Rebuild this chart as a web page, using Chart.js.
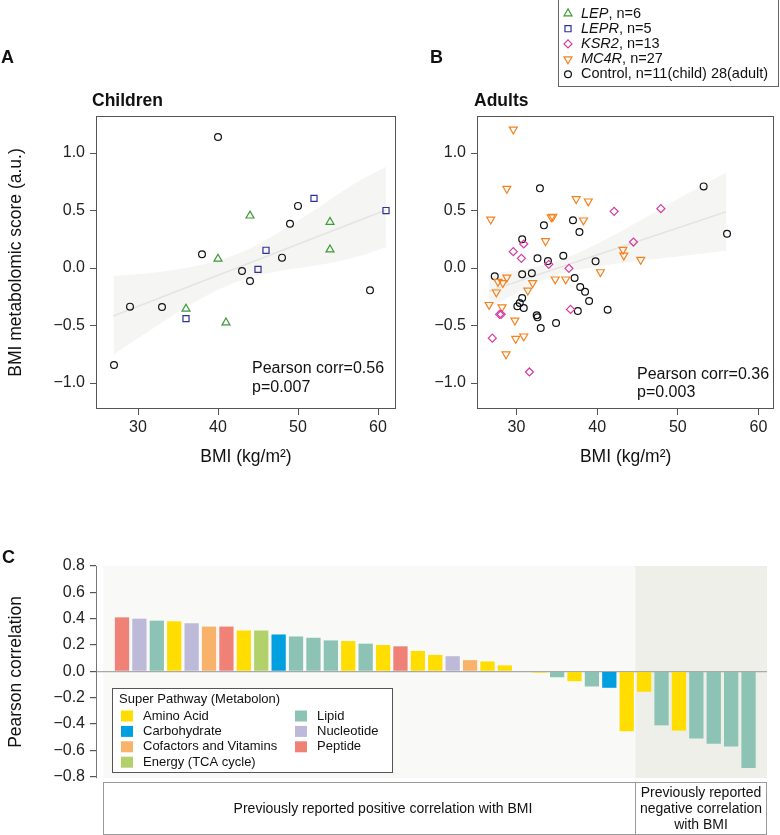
<!DOCTYPE html>
<html>
<head>
<meta charset="utf-8">
<script src="https://cdn.jsdelivr.net/npm/chart.js@4.4.0/dist/chart.umd.min.js"></script>
<style>
  body { margin: 0; background: #fff; }
  #page { position: relative; width: 780px; height: 835px; overflow: hidden;
          font-family: "Liberation Sans", Arial, sans-serif; color: #111; }
  canvas { position: absolute; }
  .lbl { position: absolute; white-space: nowrap; line-height: 20px; }
  .panel { font-weight: bold; font-size: 18px; }
  .sub { font-weight: bold; font-size: 17.5px; }
  .note { font-size: 16px; }
</style>
</head>
<body>
<div id="page">
  <canvas id="chartA" width="410" height="480" style="left:0;top:0"></canvas>
  <canvas id="chartB" width="380" height="480" style="left:400px;top:0"></canvas>
  <canvas id="chartC" width="780" height="295" style="left:0;top:540px"></canvas>

  <div class="lbl panel" style="left:1px;top:47px">A</div>
  <div class="lbl panel" style="left:430px;top:47px">B</div>
  <div class="lbl panel" style="left:2px;top:547px">C</div>
  <div class="lbl sub" style="left:92px;top:90px">Children</div>
  <div class="lbl sub" style="left:474px;top:90px">Adults</div>
  <div class="lbl note" style="left:252px;top:358px">Pearson corr=0.56</div>
  <div class="lbl note" style="left:252px;top:377px">p=0.007</div>
  <div class="lbl note" style="left:637px;top:364px">Pearson corr=0.36</div>
  <div class="lbl note" style="left:637px;top:382px">p=0.003</div>
</div>

<script>
// ---- panel A: children ----
const childLepX = [44, 54, 54, 40, 36, 41];
const childLepY = [0.455, 0.40, 0.16, 0.08, -0.355, -0.475];
const childLeprX = [52, 61, 46, 45, 36];
const childLeprY = [0.606, 0.50, 0.154, -0.012, -0.44];
const childCtrlX = [40, 50, 49, 38, 48, 43, 44, 29, 33, 59, 27];
const childCtrlY = [1.14, 0.54, 0.385, 0.12, 0.09, -0.026, -0.113, -0.336, -0.339, -0.194, -0.843];
const childFitX = [26.9, 61];
const childFitY = [-0.418, 0.504];
const childBandX = [27, 32, 37, 42, 47, 52, 57, 61];
const childBandUp = [-0.07, -0.04, 0.015, 0.11, 0.285, 0.50, 0.73, 0.88];
const childBandLo = [-0.75, -0.52, -0.30, -0.13, -0.035, 0.02, 0.09, 0.18];

// ---- panel B: adults ----
const adultMc4rX = [29.6, 28.8, 37.4, 38.9, 26.8, 34.3, 34.5, 38.3, 33.6, 43.2, 43.3, 45.4, 40.4, 28.8,
                    27.7, 28.3, 32.0, 34.8, 36.1, 27.5, 31.4, 26.6, 28.2, 29.8, 29.9, 30.9, 28.7];
const adultMc4rY = [1.206, 0.69, 0.60, 0.58, 0.423, 0.443, 0.446, 0.415, 0.235, 0.16, 0.11, 0.072, -0.035, -0.081,
                    -0.119, -0.13, -0.13, -0.098, -0.098, -0.211, -0.194, -0.32, -0.34, -0.455, -0.615, -0.594, -0.75];
const adultKsr2X = [42.1, 47.9, 44.5, 30.9, 29.6, 30.6, 34.0, 36.5, 36.7, 27.9, 28.1, 27.0, 31.6];
const adultKsr2Y = [0.493, 0.516, 0.226, 0.209, 0.142, 0.084, 0.032, -0.003, -0.36, -0.403, -0.403, -0.61, -0.904];
const adultCtrlX = [32.9, 53.2, 56.1, 37.0, 33.4, 37.8, 30.7, 35.8, 32.6, 33.9, 39.8, 27.3, 30.7, 31.9,
                    37.2, 37.9, 38.5, 39.0, 30.7, 30.1, 30.4, 30.9, 37.6, 41.3, 32.5, 32.6, 33.0, 34.9];
const adultCtrlY = [0.693, 0.71, 0.298, 0.415, 0.371, 0.313, 0.25, 0.107, 0.084, 0.06, 0.058, -0.072, -0.055, -0.046,
                    -0.087, -0.165, -0.206, -0.287, -0.261, -0.333, -0.304, -0.348, -0.374, -0.363, -0.411, -0.429, -0.522, -0.478];
const adultFitX = [26.6, 56];
const adultFitY = [-0.2, 0.49];
const adultBandX = [26.6, 30, 35, 40, 45, 50, 56];
const adultBandUp = [-0.05, -0.02, 0.06, 0.21, 0.40, 0.60, 0.83];
const adultBandLo = [-0.35, -0.22, -0.06, 0.01, 0.06, 0.10, 0.15];

const bmiTicks = [30, 40, 50, 60];
const scoreTicks = [1.0, 0.5, 0.0, -0.5, -1.0];

const groupNames = ['LEP', 'LEPR', 'KSR2', 'MC4R', 'Control'];
const groupCounts = [', n=6', ', n=5', ', n=13', ', n=27', ', n=11(child) 28(adult)'];

// ---- panel C ----
const barValues = [0.41, 0.40, 0.385, 0.38, 0.365, 0.34, 0.34, 0.31, 0.31, 0.28, 0.265, 0.255, 0.235, 0.23,
                   0.21, 0.20, 0.19, 0.155, 0.125, 0.115, 0.085, 0.075, 0.045, 0.0, -0.01, -0.045, -0.075,
                   -0.115, -0.125, -0.455, -0.155, -0.41, -0.45, -0.51, -0.55, -0.57, -0.735];
const barPathways = ['Peptide', 'Nucleotide', 'Lipid', 'Amino Acid', 'Nucleotide', 'Cofactors and Vitamins',
                     'Peptide', 'Amino Acid', 'Energy (TCA cycle)', 'Carbohydrate', 'Lipid', 'Lipid', 'Lipid',
                     'Amino Acid', 'Lipid', 'Amino Acid', 'Peptide', 'Amino Acid', 'Amino Acid', 'Nucleotide',
                     'Cofactors and Vitamins', 'Amino Acid', 'Amino Acid', 'Amino Acid', 'Amino Acid', 'Lipid',
                     'Amino Acid', 'Lipid', 'Carbohydrate', 'Amino Acid', 'Amino Acid', 'Lipid', 'Amino Acid',
                     'Lipid', 'Lipid', 'Lipid', 'Lipid'];
const negativeStart = 30; // first bar of the "previously reported negative" group
const pathwayNames = ['Amino Acid', 'Carbohydrate', 'Cofactors and Vitamins', 'Energy (TCA cycle)',
                      'Lipid', 'Nucleotide', 'Peptide'];
const corrTicks = [0.8, 0.6, 0.4, 0.2, 0.0, -0.2, -0.4, -0.6, -0.8];

const pathwayColors = {
  'Amino Acid': '#ffdd00',
  'Carbohydrate': '#00a0e0',
  'Cofactors and Vitamins': '#f9b26a',
  'Energy (TCA cycle)': '#b2d16a',
  'Lipid': '#8cc3b4',
  'Nucleotide': '#bdb9d9',
  'Peptide': '#f08177'
};

const markers = {
  LEP: { style: 'triangle', color: '#3e9a35', radius: 4.6, rotation: 0 },
  LEPR: { style: 'rect', color: '#2e3192', radius: 4.3, rotation: 0 },
  KSR2: { style: 'rectRot', color: '#d63c9e', radius: 4, rotation: 0 },
  MC4R: { style: 'triangle', color: '#f5821f', radius: 4.6, rotation: 180 },
  Control: { style: 'circle', color: '#111', radius: 3.4, rotation: 0 }
};

Chart.defaults.font.family = '"Liberation Sans", Arial, sans-serif';
Chart.defaults.color = '#222';

const zip = (xs, ys) => xs.map((x, i) => ({ x: x, y: ys[i] }));
const fmtNum = v => (v < 0 ? '\u2212' + Math.abs(v).toFixed(1) : v.toFixed(1));

function pointSet(name, xs, ys) {
  const m = markers[name];
  return {
    type: 'scatter', data: zip(xs, ys), order: 0,
    pointStyle: m.style, pointRadius: m.radius, pointRotation: m.rotation,
    borderColor: m.color, backgroundColor: 'rgba(0,0,0,0)', pointBorderWidth: 1.2
  };
}

function fitSets(fx, fy, bx, up, lo) {
  return [
    { type: 'line', data: zip(fx, fy), order: 1, borderColor: '#e4e5e1', borderWidth: 1.6,
      pointRadius: 0, fill: false },
    { type: 'line', data: zip(bx, up), order: 2, borderWidth: 0, borderColor: 'rgba(0,0,0,0)',
      pointRadius: 0, tension: 0.4, fill: false },
    { type: 'line', data: zip(bx, lo), order: 3, borderWidth: 0, borderColor: 'rgba(0,0,0,0)',
      pointRadius: 0, tension: 0.4, fill: '-1', backgroundColor: '#f5f6f3' }
  ];
}

const framePlugin = {
  id: 'frame',
  afterDraw(chart) {
    const { ctx, chartArea: a } = chart;
    ctx.save();
    ctx.strokeStyle = '#555';
    ctx.lineWidth = 1;
    ctx.strokeRect(Math.round(a.left) + 0.5, Math.round(a.top) + 0.5,
                   Math.round(a.right - a.left) - 1, Math.round(a.bottom - a.top) - 1);
    ctx.restore();
  }
};

function scatterOptions(xMin, xMax, yWidth, rightPad, yTitle) {
  return {
    responsive: false,
    animation: false,
    layout: { padding: { top: 116, right: rightPad, left: 0, bottom: 0 } },
    plugins: { legend: { display: false }, tooltip: { enabled: false } },
    scales: {
      x: {
        type: 'linear', min: xMin, max: xMax,
        afterBuildTicks: ax => { ax.ticks = bmiTicks.map(v => ({ value: v })); },
        afterFit: ax => { ax.height = 71; },
        grid: { drawOnChartArea: false, tickLength: 6, tickColor: '#555' },
        border: { display: false },
        ticks: { padding: 3, font: { size: 16 }, callback: v => String(v) },
        title: { display: true, text: 'BMI (kg/m\u00b2)', color: '#111', font: { size: 17.5 },
                 padding: { top: 0, bottom: 12.5 } }
      },
      y: {
        min: -1.226, max: 1.322,
        afterBuildTicks: ax => { ax.ticks = scoreTicks.map(v => ({ value: v })); },
        afterFit: ax => { ax.width = yWidth; },
        grid: { drawOnChartArea: false, tickLength: 6, tickColor: '#555' },
        border: { display: false },
        ticks: { padding: 5, font: { size: 16 }, callback: fmtNum },
        title: { display: !!yTitle, text: yTitle, color: '#111', font: { size: 17.5 },
                 padding: { top: 6, bottom: 0 } }
      }
    }
  };
}

function drawMarker(ctx, m, x, y) {
  const r = m.radius;
  ctx.save();
  ctx.strokeStyle = m.color;
  ctx.lineWidth = 1.2;
  ctx.beginPath();
  if (m.style === 'circle') {
    ctx.arc(x, y, r, 0, Math.PI * 2);
  } else if (m.style === 'rect') {
    const s = r * Math.SQRT1_2;
    ctx.rect(x - s, y - s, 2 * s, 2 * s);
  } else if (m.style === 'rectRot') {
    ctx.moveTo(x - r, y); ctx.lineTo(x, y - r); ctx.lineTo(x + r, y); ctx.lineTo(x, y + r);
    ctx.closePath();
  } else {
    const d = m.rotation ? -1 : 1;
    ctx.moveTo(x, y - d * r);
    ctx.lineTo(x + 0.866 * r, y + d * 0.5 * r);
    ctx.lineTo(x - 0.866 * r, y + d * 0.5 * r);
    ctx.closePath();
  }
  ctx.stroke();
  ctx.restore();
}

const groupLegend = {
  id: 'groupLegend',
  afterDraw(chart) {
    const ctx = chart.ctx;
    const left = 158, top = 0, w = 221, h = 87;
    ctx.save();
    ctx.fillStyle = '#fff';
    ctx.fillRect(left, top, w, h);
    ctx.strokeStyle = '#666';
    ctx.lineWidth = 1;
    ctx.strokeRect(left + 0.5, top - 0.5, w - 1, h);
    ctx.textBaseline = 'middle';
    ctx.fillStyle = '#111';
    groupNames.forEach((name, i) => {
      const y = 13.5 + i * 15.2;
      drawMarker(ctx, markers[name], 168, y);
      const italic = name !== 'Control';
      ctx.font = (italic ? 'italic ' : '') + '14.5px "Liberation Sans", Arial, sans-serif';
      ctx.fillText(name, 181, y);
      const wName = ctx.measureText(name).width;
      ctx.font = '14.5px "Liberation Sans", Arial, sans-serif';
      ctx.fillText(groupCounts[i], 181 + wName, y);
    });
    ctx.restore();
  }
};

new Chart(document.getElementById('chartA'), {
  type: 'scatter',
  data: {
    datasets: [
      pointSet('LEP', childLepX, childLepY),
      pointSet('LEPR', childLeprX, childLeprY),
      pointSet('Control', childCtrlX, childCtrlY),
      ...fitSets(childFitX, childFitY, childBandX, childBandUp, childBandLo)
    ]
  },
  options: scatterOptions(24.75, 62.25, 96, 14, 'BMI metabolomic score (a.u.)'),
  plugins: [framePlugin]
});

new Chart(document.getElementById('chartB'), {
  type: 'scatter',
  data: {
    datasets: [
      pointSet('KSR2', adultKsr2X, adultKsr2Y),
      pointSet('MC4R', adultMc4rX, adultMc4rY),
      pointSet('Control', adultCtrlX, adultCtrlY),
      ...fitSets(adultFitX, adultFitY, adultBandX, adultBandUp, adultBandLo)
    ]
  },
  options: scatterOptions(25.1, 61.95, 77, 1, ''),
  plugins: [framePlugin, groupLegend]
});

// ---- panel C helpers ----
const panelBackground = {
  id: 'panelBackground',
  beforeDraw(chart) {
    const { ctx, chartArea: a, scales: { x } } = chart;
    const start = x.getPixelForValue(-1.09);
    const split = x.getPixelForValue(negativeStart - 0.5);
    ctx.save();
    ctx.fillStyle = '#f9faf7';
    ctx.fillRect(start, a.top, a.right - start, a.bottom - a.top);
    ctx.fillStyle = '#eeefe9';
    ctx.fillRect(split, a.top, a.right - split, a.bottom - a.top);
    ctx.restore();
  }
};

const pathwayLegend = {
  id: 'pathwayLegend',
  afterDraw(chart) {
    const { ctx, chartArea: a, scales: { x } } = chart;
    const font = '13px "Liberation Sans", Arial, sans-serif';
    ctx.save();
    // legend box
    ctx.fillStyle = '#fff';
    ctx.fillRect(112, 148, 281, 85);
    ctx.strokeStyle = '#555';
    ctx.lineWidth = 1;
    ctx.strokeRect(112.5, 148.5, 280, 84);
    ctx.font = font;
    ctx.textBaseline = 'middle';
    ctx.fillStyle = '#111';
    ctx.fillText('Super Pathway (Metabolon)', 119, 159.5);
    pathwayNames.forEach((name, i) => {
      const col = i < 4 ? 0 : 1;
      const row = col ? i - 4 : i;
      const y = 176 + row * 15.4;
      const sx = col ? 295 : 121;
      ctx.fillStyle = pathwayColors[name];
      ctx.fillRect(sx, y - 5.5, 12, 11);
      ctx.fillStyle = '#111';
      ctx.fillText(name, sx + 22, y);
    });

    // group boxes under the plot
    const boxTop = 242.5, boxH = 52;
    const left = Math.round(x.getPixelForValue(-1.09)) + 0.5;
    const split = Math.round(x.getPixelForValue(negativeStart - 0.5)) + 0.5;
    const right = Math.round(a.right) - 0.5;
    ctx.strokeStyle = '#9a9a9a';
    ctx.strokeRect(left, boxTop, split - left, boxH);
    ctx.strokeRect(split, boxTop, right - split, boxH);
    ctx.font = '14px "Liberation Sans", Arial, sans-serif';
    ctx.textAlign = 'center';
    ctx.fillText('Previously reported positive correlation with BMI', 383, 269);
    const cx = (split + right) / 2;
    ['Previously reported', 'negative correlation', 'with BMI'].forEach((t, i) => {
      ctx.fillText(t, cx, 253 + i * 16);
    });
    ctx.restore();
  }
};

new Chart(document.getElementById('chartC'), {
  type: 'bar',
  data: {
    datasets: [{
      data: barValues.map((v, i) => ({ x: i, y: v })),
      backgroundColor: barPathways.map(p => pathwayColors[p]),
      borderWidth: 0,
      categoryPercentage: 1,
      barPercentage: 0.82
    }]
  },
  options: {
    responsive: false,
    animation: false,
    layout: { padding: { top: 26, right: 13, left: 0, bottom: 57 } },
    plugins: { legend: { display: false }, tooltip: { enabled: false } },
    scales: {
      x: { type: 'linear', min: -1.494, max: 37.06, offset: false, display: false },
      y: {
        min: -0.81, max: 0.8,
        afterBuildTicks: ax => { ax.ticks = corrTicks.map(v => ({ value: v })); },
        afterFit: ax => { ax.width = 96; },
        grid: {
          color: c => (c.tick && c.tick.value === 0 ? '#a9a9a9' : 'rgba(0,0,0,0)'),
          lineWidth: 1.2, tickLength: 6, tickColor: '#555'
        },
        border: { display: true, color: '#777' },
        ticks: { padding: 5, font: { size: 16 }, callback: fmtNum },
        title: { display: true, text: 'Pearson correlation', color: '#111', font: { size: 17.5 },
                 padding: { top: 5.5, bottom: 0 } }
      }
    }
  },
  plugins: [panelBackground, pathwayLegend]
});
</script>
</body>
</html>
